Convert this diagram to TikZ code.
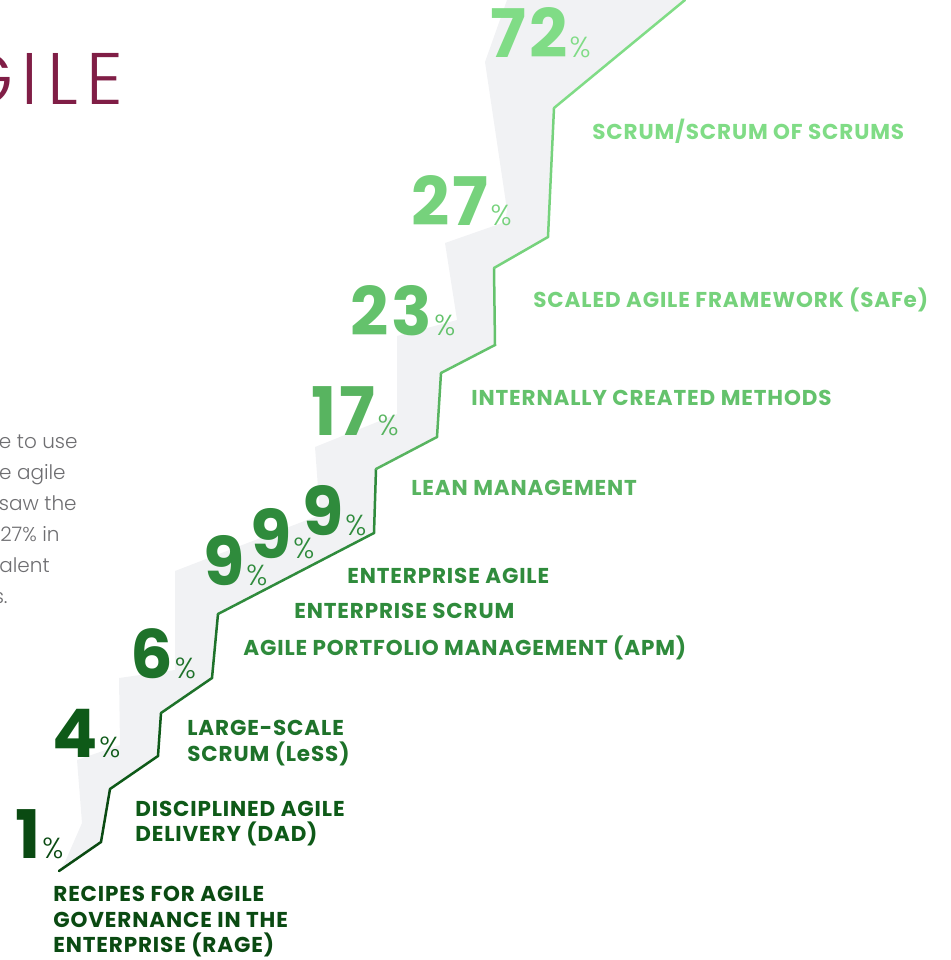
\documentclass[tikz,border=0pt]{standalone}
\usepackage{fontspec}
\setmainfont{Poppins}
\newfontfamily\labelfont{Poppins Bold}[LetterSpace=4]
\newfontfamily\numfont{Poppins Bold}[LetterSpace=5]
\newfontfamily\thinfont{Poppins Light}
\newfontfamily\titlefont{Poppins Light}[LetterSpace=12]

\definecolor{titlered}{RGB}{128,30,70}
\definecolor{bodygray}{RGB}{110,110,113}
\definecolor{shadowgray}{RGB}{241,242,244}
\definecolor{gA}{RGB}{10,74,18}
\definecolor{gB}{RGB}{14,90,24}
\definecolor{gC}{RGB}{30,114,42}
\definecolor{gD}{RGB}{47,139,60}
\definecolor{gE}{RGB}{88,180,96}
\definecolor{gF}{RGB}{100,194,108}
\definecolor{gG}{RGB}{118,210,124}
\definecolor{gH}{RGB}{128,220,134}

\tikzset{every picture/.style={line width=0.75pt}}
\tikzset{
  steplabel/.style={font=\labelfont\fontsize{21.5}{25.5}\selectfont, anchor=west, inner sep=0pt, align=left},
  bignum/.style={font=\numfont\fontsize{67}{67}\selectfont, anchor=base west, inner sep=0pt},
  pct/.style={font=\thinfont\fontsize{29}{29}\selectfont, anchor=base west, inner sep=0pt, xshift=1pt},
  bodyline/.style={font=\thinfont\fontsize{20}{20}\selectfont, text=bodygray, anchor=base east, inner sep=0pt},
  stairline/.style={line width=2.5pt, line cap=round, line join=miter}
}

\begin{document}
\begin{tikzpicture}[x=1pt,y=1pt,yscale=-1,xscale=1]
    \useasboundingbox (0,0) rectangle (950,960);

    % corners of the stair line
    \coordinate (l0) at (59,871);
    \coordinate (l1) at (101,842);
    \coordinate (l2) at (110,789);
    \coordinate (l3) at (158,756);
    \coordinate (l4) at (161,713);
    \coordinate (l5) at (212,678);
    \coordinate (l6) at (218,614);
    \coordinate (l7) at (374,533);
    \coordinate (l8) at (376,469);
    \coordinate (l9) at (437,437);
    \coordinate (l10) at (441,373);
    \coordinate (l11) at (495,345);
    \coordinate (l12) at (494,268);
    \coordinate (l13) at (548,237);
    \coordinate (l14) at (554,108);
    \coordinate (l15) at (685,0);

    %Shape: Shadow of the stairs
    \fill [shadowgray] (l0) -- (l1) -- (l2) -- (l3) -- (l4) -- (l5) -- (l6) -- (l7) -- (l8) -- (l9) -- (l10) -- (l11) -- (l12) -- (l13) -- (l14) -- (l15)
        -- (507,0) -- (485,62) -- (507,210) -- (505,222) -- (445,243) -- (457,320) -- (397,336) -- (397,414) -- (315,447) -- (320,515)
        -- (175,571) -- (175,670) -- (119,678) -- (120,745) -- (77,760) -- (82,823) -- (65,862) -- cycle ;

    %Straight Lines: the stairs
    \draw [stairline, gA] (l0) -- (l1) -- (l2) ;
    \draw [stairline, gB] (l2) -- (l3) -- (l4) ;
    \draw [stairline, gC] (l4) -- (l5) -- (l6) ;
    \draw [stairline, gD] (l6) -- (l7) -- (l8) ;
    \draw [stairline, gE] (l8) -- (l9) -- (l10) ;
    \draw [stairline, gF] (l10) -- (l11) -- (l12) ;
    \draw [stairline, gG] (l12) -- (l13) -- (l14) ;
    \draw [stairline, gH] (l14) -- (l15) ;

    % Text Node
    \node (title) at (124,105) [font=\titlefont\fontsize{73}{73}\selectfont, text=titlered, anchor=base east, inner sep=0pt] {GILE};

    % Text Node
    \node (body1) at (78,448) [bodyline] {e to use};
    \node (body2) at (66,479) [bodyline] {e agile};
    \node (body3) at (77,510) [bodyline] {saw the};
    \node (body4) at (60,541) [bodyline] {27\% in};
    \node (body5) at (50,572) [bodyline] {alent};
    \node (body6) at (8,603) [bodyline] {s.};

    % Text Node
    \node (n72) at (490,58) [bignum, text=gH] {72};
    \node (p72) at (n72.base east) [pct, text=gH] {\%};
    \node (n27) at (411,225) [bignum, text=gG] {27};
    \node (p27) at (n27.base east) [pct, text=gG] {\%};
    \node (n23) at (350,335) [bignum, text=gF] {23};
    \node (p23) at (n23.base east) [pct, text=gF] {\%};
    \node (n17) at (311,435) [bignum, text=gE] {17};
    \node (p17) at (n17.base east) [pct, text=gE] {\%};
    \node (n9c) at (302,535) [bignum, text=gD] {9};
    \node (p9c) at (n9c.base east) [pct, text=gD] {\%};
    \node (n9b) at (250,558) [bignum, text=gD] {9};
    \node (p9b) at (n9b.base east) [pct, text=gD] {\%};
    \node (n9a) at (203,585) [bignum, text=gD] {9};
    \node (p9a) at (n9a.base east) [pct, text=gD] {\%};
    \node (n6) at (130,678) [bignum, text=gC] {6};
    \node (p6) at (n6.base east) [pct, text=gC] {\%};
    \node (n4) at (52,757) [bignum, text=gB] {4};
    \node (p4) at (n4.base east) [pct, text=gB] {\%};
    \node (n1) at (15,858) [bignum, text=gA] {1};
    \node (p1) at (n1.base east) [pct, text=gA] {\%};

    % Text Node
    \node (scrum) at (592,131) [steplabel, text=gH] {SCRUM/SCRUM OF SCRUMS};
    \node (safe) at (533,300) [steplabel, text=gG] {SCALED AGILE FRAMEWORK (SAFe)};
    \node (internal) at (471,398) [steplabel, text=gF] {INTERNALLY CREATED METHODS};
    \node (lean) at (411,488) [steplabel, text=gE] {LEAN MANAGEMENT};
    \node (entagile) at (347,576) [steplabel, text=gD] {ENTERPRISE AGILE};
    \node (entscrum) at (294,611) [steplabel, text=gD] {ENTERPRISE SCRUM};
    \node (apm) at (243,648) [steplabel, text=gD] {AGILE PORTFOLIO MANAGEMENT (APM)};
    \node (less) at (187,743) [steplabel, text=gC] {LARGE-SCALE\\SCRUM (LeSS)};
    \node (dad) at (135,823.5) [steplabel, text=gB] {DISCIPLINED AGILE\\DELIVERY (DAD)};
    \node (rage) at (53,922) [steplabel, text=gA] {RECIPES FOR AGILE\\GOVERNANCE IN THE\\ENTERPRISE (RAGE)};
\end{tikzpicture}
\end{document}
